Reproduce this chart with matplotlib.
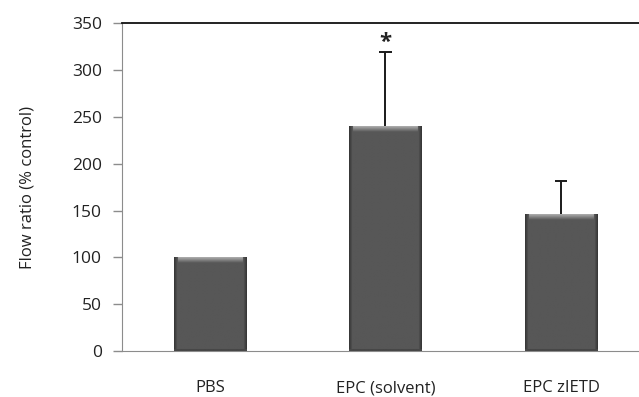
import numpy as np
import matplotlib.pyplot as plt

groups = ['PBS', 'EPC (solvent)', 'EPC zIETD']
flow_ratio = [100, 240, 146]
err_up = [0, 79, 36]
signif = ['', '*', '']

plt.rcParams['font.family'] = ['Open Sans', 'DejaVu Sans']

fig = plt.figure(figsize=(6.39, 3.97), dpi=100)
ax = fig.add_axes([0.1909, 0.1159, 0.8247, 0.8254])

x = np.arange(len(groups))
width = 0.41

# plain bars first, then a bevelled image laid over each one
bars = ax.bar(x, flow_ratio, width, color='#575757', zorder=2)

px_per_unit = 327.7 / 350
for b in bars:
    x0, w, h = b.get_x(), b.get_width(), b.get_height()
    rows = max(int(h * px_per_unit), 10)
    cols = 72
    img = np.full((rows, cols), 0.34)
    # top highlight band
    band = np.linspace(0.66, 0.36, 6)
    img[:6, :] = band[:, None]
    # darker side edges
    side = np.linspace(0.22, 0.34, 4)
    img[:, :4] = np.minimum(img[:, :4], side[None, :])
    img[:, -4:] = np.minimum(img[:, -4:], side[::-1][None, :])
    img[-2:, :] = 0.28
    ax.imshow(img, cmap='gray', vmin=0, vmax=1, aspect='auto',
              extent=(x0, x0 + w, 0, h), zorder=3, interpolation='bilinear')

# upper error bars only
cap = 0.035
for xi, yi, e, s in zip(x, flow_ratio, err_up, signif):
    if e > 0:
        ax.vlines(xi, yi, yi + e, color='#1a1a1a', lw=1.4, zorder=1)
        ax.hlines(yi + e, xi - cap, xi + cap, color='#1a1a1a', lw=1.4, zorder=1)
    if s:
        ax.text(xi, yi + e + 10, s, ha='center', va='center', fontsize=16,
                color='#222222', fontweight='bold')

ax.set_xlim(-0.5, 2.5)
ax.set_ylim(0, 350)
ax.set_yticks(range(0, 351, 50))
ax.set_xticks(x)
ax.set_xticklabels(groups)

ax.spines['right'].set_visible(False)
ax.spines['left'].set_color('#8c8c8c')
ax.spines['bottom'].set_color('#8c8c8c')
ax.spines['top'].set_color('#111111')
ax.spines['top'].set_linewidth(1.3)

ax.tick_params(axis='y', length=6.5, width=1, color='#8c8c8c', pad=8,
               labelsize=12.5, labelcolor='#222222')
ax.tick_params(axis='x', length=0, pad=21, labelsize=12, labelcolor='#222222')

ax.set_ylabel('Flow ratio (% control)', fontsize=12, color='#222222')
ax.yaxis.set_label_coords(-0.165, 0.5)

fig.savefig('out.png', dpi=100)
